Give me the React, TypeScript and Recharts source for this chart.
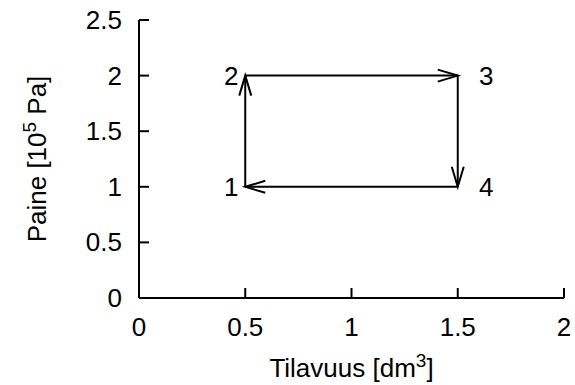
import React from 'react';
import { ComposedChart, Line, Scatter, XAxis, YAxis } from 'recharts';

// state points of the cycle (volume in dm3, pressure in 10^5 Pa)
const stateNames = ['1', '2', '3', '4'];
const volume = [0.5, 0.5, 1.5, 1.5];
const pressure = [1, 2, 2, 1];
// label anchor points next to the states
const labelVolume = [0.4, 0.4, 1.6, 1.6];
const labelPressure = [1, 2, 2, 1];

const xTicks = [0, 0.5, 1, 1.5, 2];
const yTicks = [0, 0.5, 1, 1.5, 2, 2.5];

const FONT = 'Liberation Sans, Arial, sans-serif';
const FS = 26;

// cycle 1 -> 2 -> 3 -> 4 -> 1, one arrow per step
const segments = stateNames.map((_, i) => {
    const j = (i + 1) % stateNames.length;
    return [
        { x: volume[i], y: pressure[i] },
        { x: volume[j], y: pressure[j] },
    ];
});

const labelPoints = stateNames.map((name, i) => ({ x: labelVolume[i], y: labelPressure[i], name }));

const fmt = (v: number) => String(v);

function XTick(props: any) {
    const { x, y, payload } = props;
    return (
        <g>
            <line x1={x} y1={y} x2={x} y2={y - 10} stroke="#000" strokeWidth={2} />
            <text x={x} y={y + 38} textAnchor="middle" fontSize={FS} fontFamily={FONT} fill="#000">
                {fmt(payload.value)}
            </text>
        </g>
    );
}

function YTick(props: any) {
    const { x, y, payload } = props;
    return (
        <g>
            <line x1={x} y1={y} x2={x + 10} y2={y} stroke="#000" strokeWidth={2} />
            <text x={x - 17} y={y + 9} textAnchor="end" fontSize={FS} fontFamily={FONT} fill="#000">
                {fmt(payload.value)}
            </text>
        </g>
    );
}

// open arrowhead at the end point of a segment
function makeArrowDot(seg: { x: number; y: number }[]) {
    const dx = Math.sign(seg[1].x - seg[0].x);
    const dy = -Math.sign(seg[1].y - seg[0].y);
    return (props: any) => {
        const { cx, cy, index } = props;
        if (index !== 1) return <g key={`d${index}`} />;
        const len = 20;
        const hw = 6;
        const bx = cx - dx * len;
        const by = cy - dy * len;
        const px = -dy * hw;
        const py = dx * hw;
        return (
            <path
                key={`d${index}`}
                d={`M${bx + px},${by + py} L${cx},${cy} L${bx - px},${by - py}`}
                fill="none"
                stroke="#000"
                strokeWidth={2}
            />
        );
    };
}

function StateLabel(props: any) {
    const { cx, cy, payload } = props;
    return (
        <text x={cx} y={cy + 9} textAnchor="start" fontSize={FS} fontFamily={FONT} fill="#000">
            {payload.name}
        </text>
    );
}

export default function App() {
    return (
        <div style={{ position: 'absolute', left: 0, top: 0, background: '#fff' }}>
            <ComposedChart width={575} height={385} margin={{ top: 20, right: 11, bottom: 0, left: 0 }}>
                <XAxis
                    type="number"
                    dataKey="x"
                    domain={[0, 2]}
                    ticks={xTicks}
                    height={87}
                    axisLine={{ stroke: '#000', strokeWidth: 2 }}
                    tickLine={false}
                    tickSize={0}
                    tickMargin={0}
                    tick={<XTick />}
                    interval={0}
                    allowDataOverflow
                    label={(p: any) => {
                        const vb = p.viewBox;
                        return (
                            <text x={vb.x + vb.width / 2} y={vb.y + 79} textAnchor="middle" fontSize={FS} fontFamily={FONT} fill="#000">
                                Tilavuus [dm<tspan dy={-10} fontSize={19}>3</tspan><tspan dy={10}>]</tspan>
                            </text>
                        );
                    }}
                />
                <YAxis
                    type="number"
                    dataKey="y"
                    domain={[0, 2.5]}
                    ticks={yTicks}
                    width={139}
                    axisLine={{ stroke: '#000', strokeWidth: 2 }}
                    tickLine={false}
                    tickSize={0}
                    tickMargin={0}
                    tick={<YTick />}
                    interval={0}
                    allowDataOverflow
                    label={(p: any) => {
                        const vb = p.viewBox;
                        const cx = 46;
                        const cy = vb.y + vb.height / 2;
                        return (
                            <text x={cx} y={cy} transform={`rotate(-90 ${cx} ${cy})`} textAnchor="middle" fontSize={FS} fontFamily={FONT} fill="#000">
                                Paine [10<tspan dy={-10} fontSize={19}>5</tspan><tspan dy={10}> Pa]</tspan>
                            </text>
                        );
                    }}
                />
                {segments.map((seg, i) => (
                    <Line
                        key={i}
                        data={seg}
                        dataKey="y"
                        type="linear"
                        stroke="#000"
                        strokeWidth={2}
                        dot={makeArrowDot(seg)}
                        activeDot={false}
                        isAnimationActive={false}
                    />
                ))}
                <Scatter data={labelPoints} dataKey="y" shape={<StateLabel />} isAnimationActive={false} />
            </ComposedChart>
        </div>
    );
}
